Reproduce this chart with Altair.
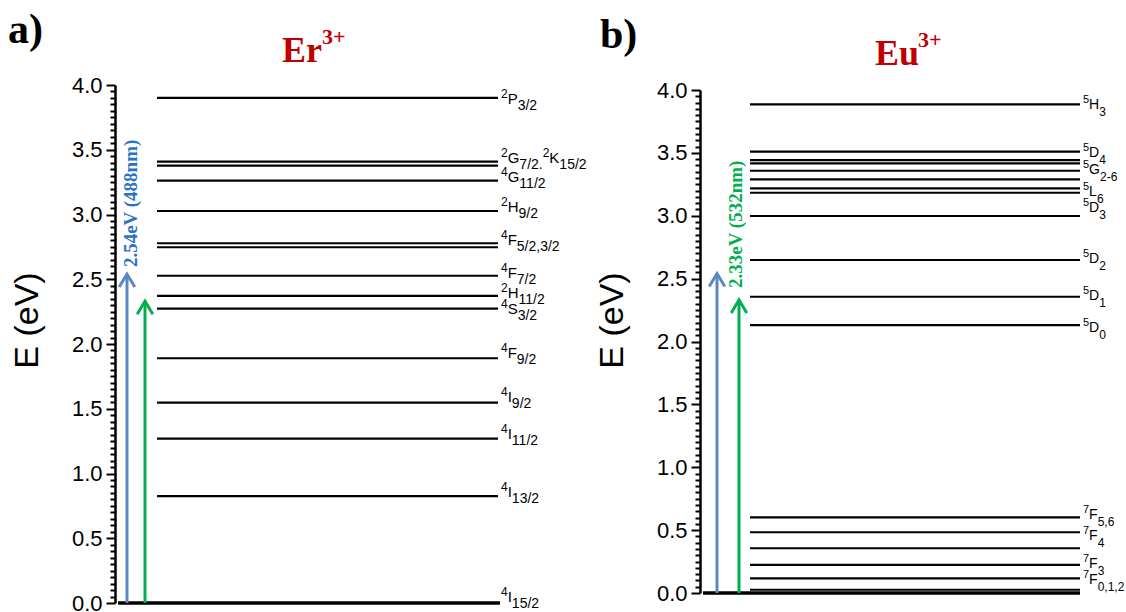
import altair as alt
import numpy as np
import pandas as pd

# ---- Er3+ levels (eV) -------------------------------------------------------
er_levels = [0.826, 1.270, 1.547, 1.890, 2.273, 2.371, 2.527, 2.747, 2.778,
             3.027, 3.261, 3.377, 3.408, 3.900]
er_terms = ["^4I_15/2", "^4I_13/2", "^4I_11/2", "^4I_9/2", "^4F_9/2", "^4S_3/2",
            "^2H_11/2", "^4F_7/2", "^4F_5/2,3/2", "^2H_9/2", "^4G_11/2",
            "^2G_7/2.^2K_15/2", "^2P_3/2"]
er_term_E = [0.046, 0.857, 1.305, 1.587, 1.931, 2.272, 2.395, 2.548, 2.803,
             3.058, 3.290, 3.436, 3.890]

# ---- Eu3+ levels (eV) -------------------------------------------------------
eu_levels = [0.026, 0.117, 0.223, 0.356, 0.483, 0.602, 2.130, 2.356, 2.648,
             2.998, 3.183, 3.218, 3.290, 3.358, 3.417, 3.443, 3.510, 3.886]
eu_terms = ["^7F_0,1,2", "^7F_3", "^7F_4", "^7F_5,6", "^5D_0", "^5D_1", "^5D_2",
            "^5D_3", "^5L_6", "^5G_2-6", "^5D_4", "^5H_3"]
eu_term_E = [0.103, 0.231, 0.453, 0.624, 2.111, 2.362, 2.656, 3.060, 3.190,
             3.364, 3.499, 3.880]

# ---- excitation energies ----------------------------------------------------
blue_eV, blue_text = 2.54, "2.54eV (488nm)"
green_eV, green_text = 2.33, "2.33eV (532nm)"

BLUE_ARROW = "#5b87c6"
GREEN_ARROW = "#00b050"
BLUE_TEXT = "#2a73c2"
GREEN_TEXT = "#00b050"
RED = "#c00000"
SANS = "Liberation Sans"
SERIF = "Liberation Serif"

RUN_DY = {"sup": -5, "main": 0, "sub": 7}
GLYPH = {"/": 0.278, ",": 0.278, ".": 0.278, "-": 0.333, "P": 0.667, "G": 0.778,
         "K": 0.667, "H": 0.722, "F": 0.611, "S": 0.667, "I": 0.278, "D": 0.722,
         "L": 0.556}


def glyph_w(ch):
    return 0.556 if ch.isdigit() else GLYPH.get(ch, 0.6)


def split_runs(term):
    """Split '^2G_7/2' style markup into (kind, text) runs."""
    runs, mode, buf = [], None, ""

    def flush():
        nonlocal buf
        if buf:
            runs.append((mode, buf))
        buf = ""

    for ch in term:
        if ch == "^":
            flush(); mode = "sup"; continue
        if ch == "_":
            flush(); mode = "sub"; continue
        if mode == "sup" and ch.isalpha():
            flush(); mode = "main"
        buf += ch
    flush()
    return runs


def term_table(terms, energies, x0, sizes):
    rows = []
    for term, e in zip(terms, energies):
        x = x0
        for kind, txt in split_runs(term):
            rows.append({"t": txt, "kind": kind, "E": e, "lx": x})
            x += sum(glyph_w(c) for c in txt) * sizes[kind]
    return pd.DataFrame(rows)


MAJOR = "abs(datum.value * 2 - round(datum.value * 2)) < 0.01"
tick_vals = [round(v, 2) for v in np.arange(0, 81) * 0.05]


def y_enc(field, rng, axis_x):
    axis = alt.Axis(
        orient="left", offset=-axis_x, values=tick_vals, grid=False,
        labelExpr=f"{MAJOR} ? format(datum.value, '.1f') : ''",
        labelOverlap=False, labelFlush=False, labelFont=SANS, labelFontSize=22,
        labelColor="black", labelPadding=4,
        tickColor="black", tickWidth=2,
        tickSize={"condition": {"test": MAJOR, "value": 9}, "value": 5},
        domainColor="black", domainWidth=2.5,
        title="E (eV)", titleFont=SANS, titleFontSize=34, titleFontWeight="normal",
        titleColor="black", titleAngle=270, titleAlign="center",
        titleBaseline="middle", titleX=-88, titleY=320,
    )
    return alt.Y(f"{field}:Q", scale=alt.Scale(domain=[0, 4], range=rng, nice=False, zero=False),
                 axis=axis)


def panel(levels, terms, term_E, rng, axis_x, line_x, ground_x, label_x, sizes,
          arrows, arrow_label, heading, ion):
    y = lambda f="E": y_enc(f, rng, axis_x)
    lev = alt.Chart(pd.DataFrame({"E": levels})).mark_rule(
        color="black", strokeWidth=2.2).encode(
        y=y(), x=alt.value(line_x[0]), x2=alt.value(line_x[1]))
    ground = alt.Chart(pd.DataFrame({"E": [0.0]})).mark_rule(
        color="black", strokeWidth=3.5).encode(
        y=y(), x=alt.value(ground_x[0]), x2=alt.value(ground_x[1]))

    tbl = term_table(terms, term_E, label_x, sizes)
    labels = [
        alt.Chart(tbl[tbl.kind == k]).mark_text(
            align="left", baseline="middle", font=SANS, fontSize=sizes[k],
            dy=RUN_DY[k], color="black").encode(
            y=y(), x=alt.X("lx:Q", scale=None), text="t:N")
        for k in ("sup", "main", "sub")
    ]

    layers = [lev, ground] + labels
    for ax, e, col in arrows:
        d = pd.DataFrame({"E": [e]})
        layers.append(alt.Chart(d).mark_rule(color=col, strokeWidth=3).encode(
            y=y(), y2=alt.datum(0), x=alt.value(ax)))
        layers.append(alt.Chart(d).mark_point(
            shape="M-0.6,1L0,0L0.6,1", filled=False, size=676, strokeWidth=3,
            opacity=1, color=col).encode(y=y(), x=alt.value(ax)))

    ax, e, txt, col, dx, dy = arrow_label
    layers.append(alt.Chart(pd.DataFrame({"E": [e], "t": [txt]})).mark_text(
        angle=270, align="left", baseline="middle", dx=dx, dy=dy, font=SERIF,
        fontWeight="bold", fontSize=19, color=col).encode(
        y=y(), x=alt.value(ax), text="t:N"))

    hx, hy, htxt = heading
    ix, iy, itxt, sx, sy = ion
    layers.append(alt.Chart(pd.DataFrame({"t": [htxt]})).mark_text(
        align="left", baseline="alphabetic", font=SERIF, fontWeight="bold",
        fontSize=42, color="black").encode(
        x=alt.value(hx), y=alt.value(hy), text="t:N"))
    layers.append(alt.Chart(pd.DataFrame({"t": [itxt]})).mark_text(
        align="left", baseline="alphabetic", font=SERIF, fontWeight="bold",
        fontSize=36, color=RED).encode(
        x=alt.value(ix), y=alt.value(iy), text="t:N"))
    layers.append(alt.Chart(pd.DataFrame({"t": ["3+"]})).mark_text(
        align="left", baseline="alphabetic", font=SERIF, fontWeight="bold",
        fontSize=22, color=RED).encode(
        x=alt.value(sx), y=alt.value(sy), text="t:N"))
    return alt.layer(*layers)


er_panel = panel(
    er_levels, er_terms, er_term_E, rng=[603, 85], axis_x=115,
    line_x=(157, 498), ground_x=(118, 500), label_x=501,
    sizes={"sup": 12, "main": 15, "sub": 14},
    arrows=[(127, blue_eV, BLUE_ARROW), (145, green_eV, GREEN_ARROW)],
    arrow_label=(127, blue_eV, blue_text, BLUE_TEXT, 7, 4),
    heading=(8, 43, "a)"), ion=(282, 62, "Er", 322, 44),
)

eu_panel = panel(
    eu_levels, eu_terms, eu_term_E, rng=[593, 90], axis_x=700,
    line_x=(750, 1080), ground_x=(703, 1080), label_x=1083,
    sizes={"sup": 11, "main": 14, "sub": 12},
    arrows=[(717, blue_eV, BLUE_ARROW), (739, green_eV, GREEN_ARROW)],
    arrow_label=(739, green_eV, green_text, GREEN_TEXT, 12, -3.5),
    heading=(600, 48, "b)"), ion=(875, 65, "Eu", 918, 47),
)

chart = (
    alt.layer(er_panel, eu_panel)
    .resolve_scale(y="independent")
    .resolve_axis(y="independent")
    .properties(width=1126, height=612, padding=0,
                autosize=alt.AutoSizeParams(type="none"), background="white")
    .configure_view(stroke=None)
)

chart.save("out.html", embed_options={"renderer": "svg", "actions": False})
